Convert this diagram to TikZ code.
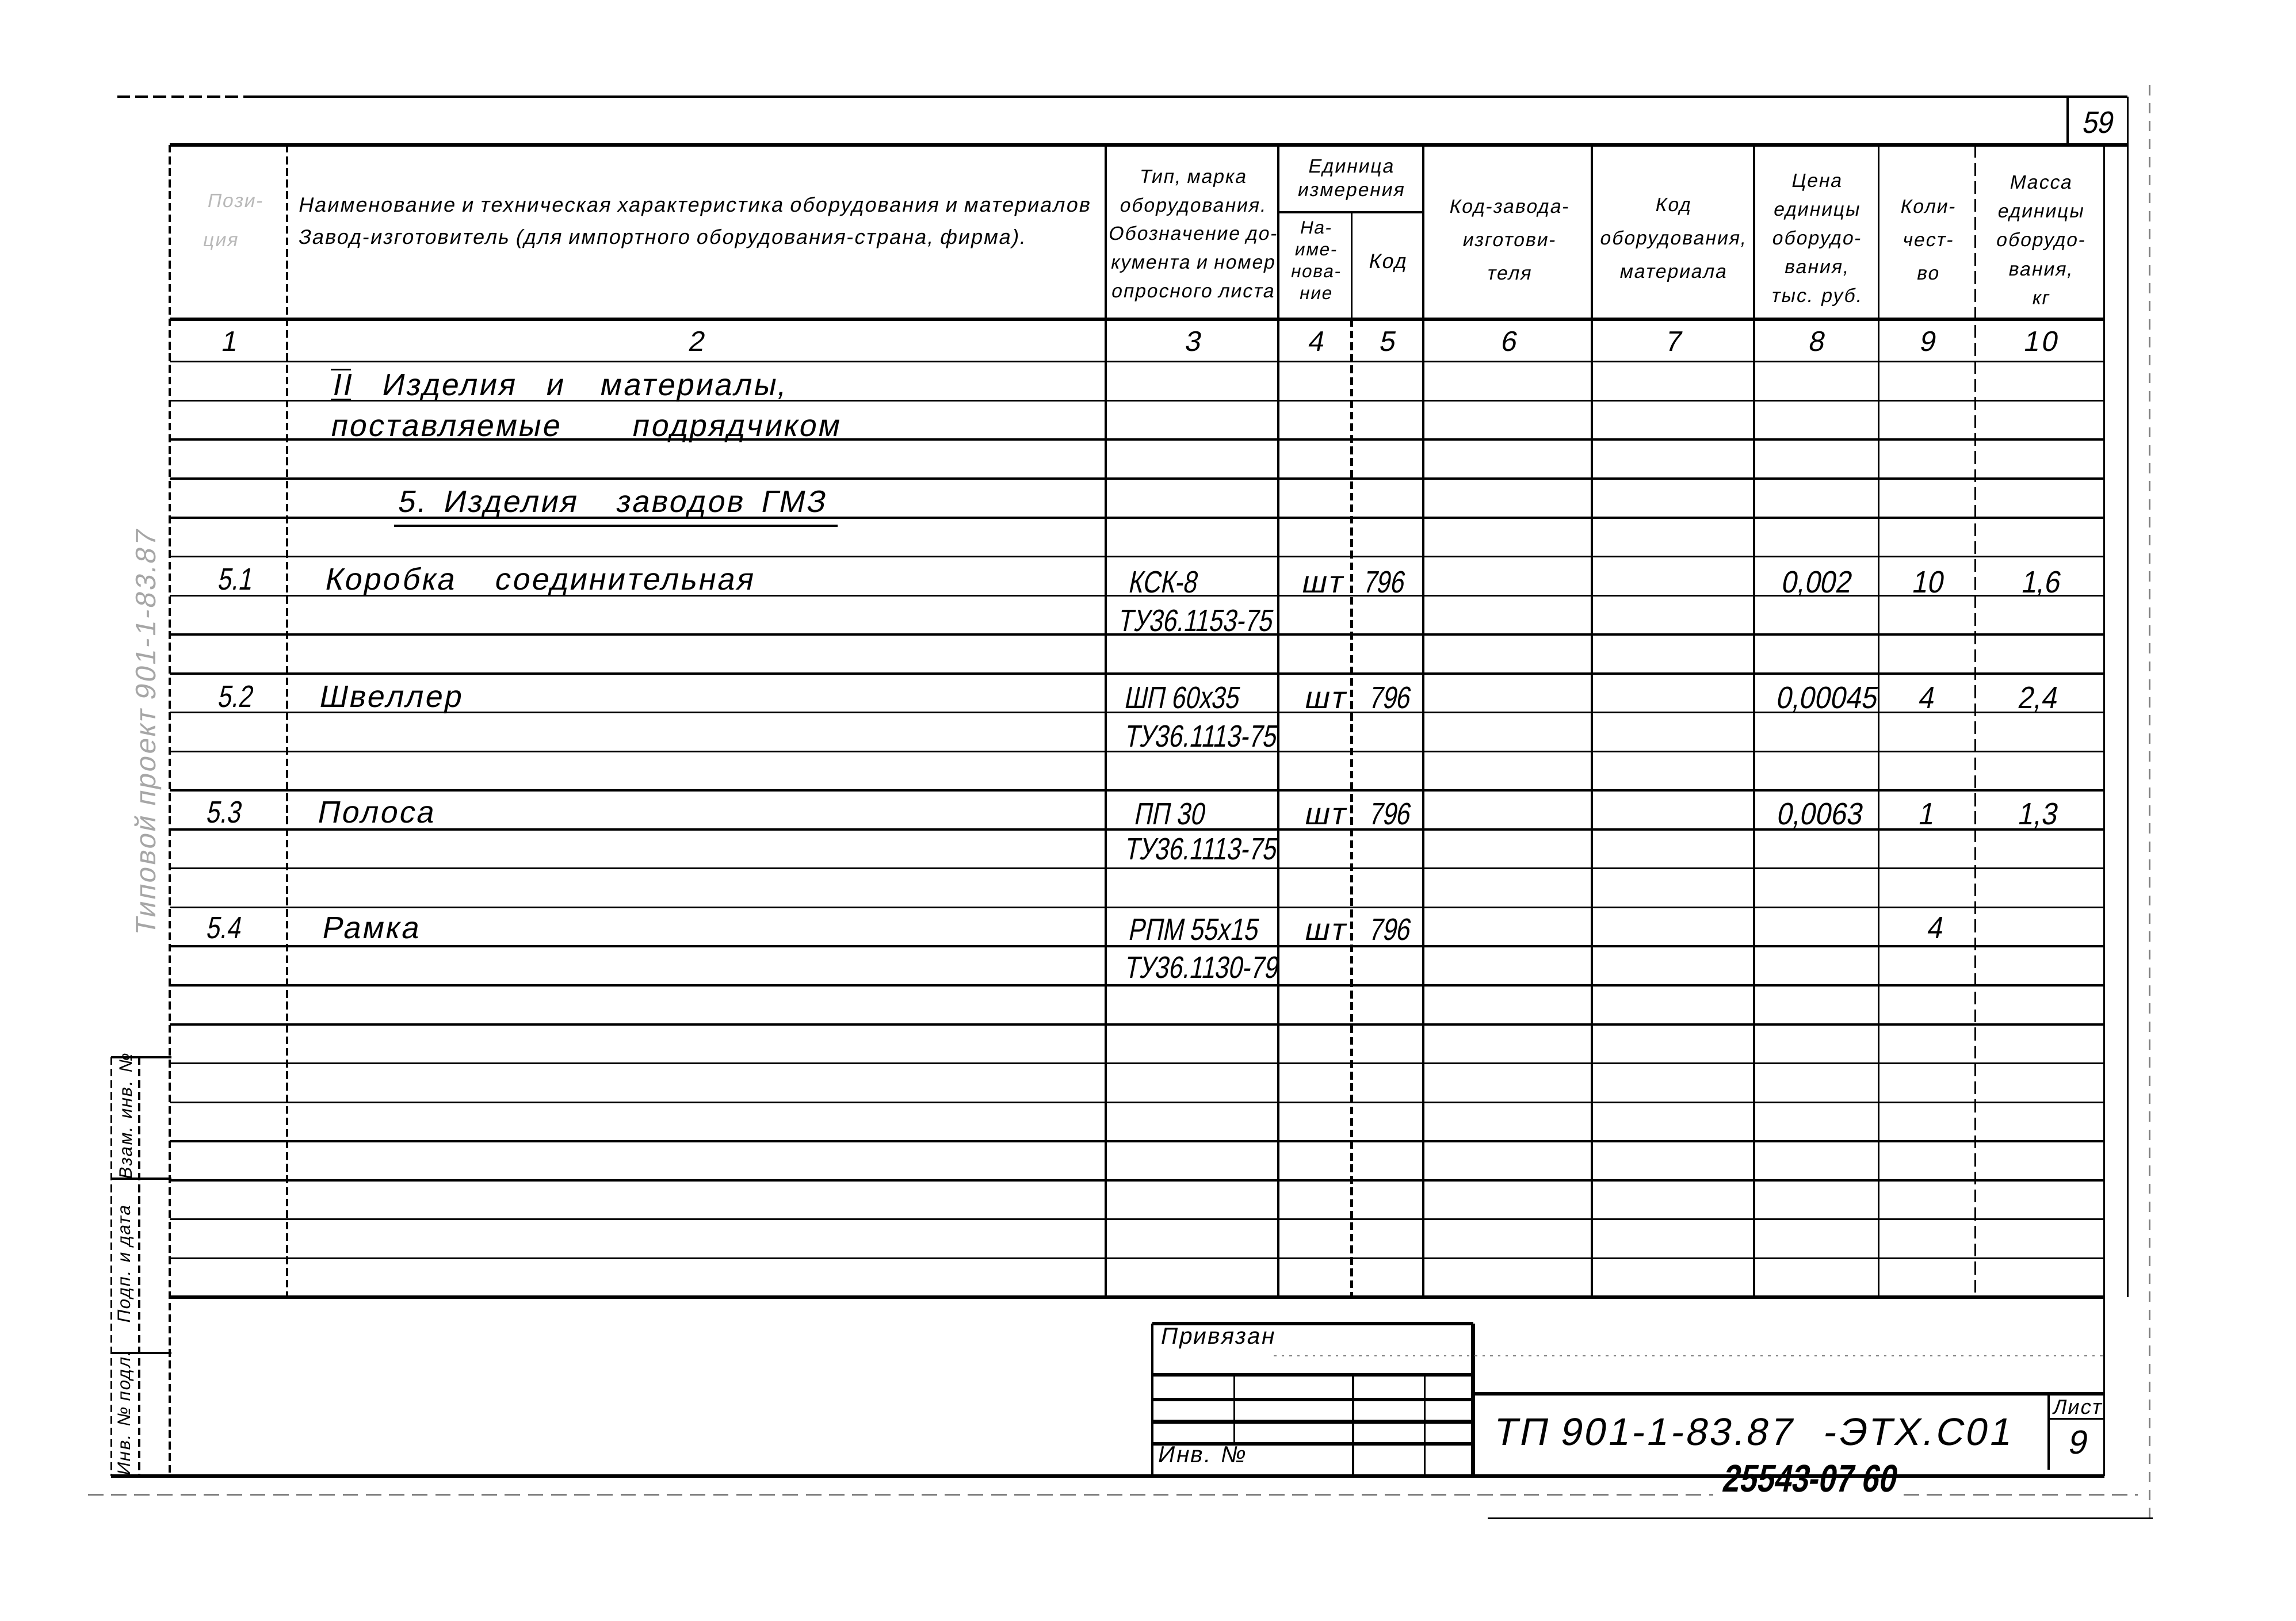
\documentclass[tikz,border=0pt]{standalone}
\usepackage{fontspec}
\setmainfont{Liberation Sans}[FakeSlant=0.2, LetterSpace=6]
\newfontfamily\narrowfont{Liberation Sans}[FakeSlant=0.2, FakeStretch=0.8]
\newfontfamily\valuefont{Liberation Sans}[FakeSlant=0.2, FakeStretch=0.9]
\usetikzlibrary{positioning}
\tikzset{
  ruleline/.style={line width=0.8pt},
  heavyrule/.style={line width=1.4pt},
  dotrule/.style={line width=0.8pt, dash pattern=on 3pt off 1.5pt},
  dashrule/.style={line width=0.7pt, dash pattern=on 5pt off 2pt},
  hdr/.style={inner sep=0pt, align=center, font=\fontsize{7.5}{11}\selectfont},
  word/.style={inner sep=0pt, anchor=base west, font=\fontsize{12}{14}\selectfont},
  code/.style={inner sep=0pt, anchor=base west, font=\narrowfont\fontsize{12}{14}\selectfont},
  numtext/.style={inner sep=0pt, anchor=base, font=\valuefont\fontsize{12}{14}\selectfont},
}

\begin{document}
\begin{tikzpicture}[x=0.2mm, y=-0.2mm]

% Sheet
\fill[white] (0,0) rectangle (1568,1107);
\useasboundingbox (0,0) rectangle (1568,1107);

% Outer frame
\draw[dashrule] (80,66) -- (172,66);
\draw[ruleline] (172,66) -- (1453,66);
\draw[ruleline] (1412,66) -- (1412,99);
\draw[ruleline] (1453,66) -- (1453,886);
\draw[gray, line width=0.6pt, dash pattern=on 4pt off 3pt] (1468,58) -- (1468,1040);
\node[numtext] (sheetno) at (1432,91) {59};

% Head of the table
\draw[heavyrule] (116,99) -- (1453,99);
\draw[heavyrule] (116,218) -- (1437,218);
\draw[ruleline] (873,145) -- (972,145);

% Rows
\draw[ruleline] (116,247) -- (1437,247);
\foreach \k in {1,...,23}
  \draw[ruleline] (116,{247+26.625*\k}) -- (1437,{247+26.625*\k});
\draw[heavyrule] (116,886) -- (1437,886);

% Columns
\draw[dotrule] (116,99) -- (116,1008);
\draw[dotrule] (196,99) -- (196,886);
\foreach \x in {755,873,972,1087,1198,1283}
  \draw[ruleline] (\x,99) -- (\x,886);
\draw[ruleline] (923,145) -- (923,218);
\draw[dotrule, line width=1.1pt] (923,218) -- (923,886);
\draw[dashrule] (1349,99) -- (1349,886);
\draw[ruleline] (1437,99) -- (1437,1008);
\draw[heavyrule] (76,1008) -- (1437,1008);

% Header texts
\node[hdr, text=gray!55] (h1a) at (160,137) {Пози-};
\node[hdr, text=gray!55] (h1b) at (150,166) {ция};
\node[hdr, anchor=west, font=\fontsize{8}{10}\selectfont] (h2a) at (203,141)
  {Наименование и техническая характеристика оборудования и материалов};
\node[hdr, anchor=west, font=\fontsize{8}{10}\selectfont] (h2b) at (203,163)
  {Завод-изготовитель (для импортного оборудования-страна, фирма).};
\node[hdr, font=\fontsize{7.5}{11.1}\selectfont] (h3) at (814,161)
  {Тип, марка\\оборудования.\\Обозначение до-\\кумента и номер\\опросного листа};
\node[hdr, font=\fontsize{7.5}{9.1}\selectfont] (h45) at (922,123) {Единица\\измерения};
\node[hdr, font=\fontsize{7}{8.5}\selectfont] (h4) at (898,178) {На-\\име-\\нова-\\ние};
\node[hdr, font=\fontsize{8}{10}\selectfont] (h5) at (947,180) {Код};
\node[hdr, font=\fontsize{7.5}{13}\selectfont] (h6) at (1030,164) {Код-завода-\\изготови-\\теля};
\node[hdr, font=\fontsize{7.5}{13}\selectfont] (h7) at (1142,164) {Код\\оборудования,\\материала};
\node[hdr, font=\fontsize{7.5}{11.2}\selectfont] (h8) at (1240,164)
  {Цена\\единицы\\оборудо-\\вания,\\тыс. руб.};
\node[hdr, font=\fontsize{7.5}{13}\selectfont] (h9) at (1316,164) {Коли-\\чест-\\во};
\node[hdr, font=\fontsize{7.5}{11.2}\selectfont] (h10) at (1393,164)
  {Масса\\единицы\\оборудо-\\вания,\\кг};

% Column numbers
\foreach \n/\x in {1/156, 2/475, 3/814, 4/898, 5/947, 6/1030, 7/1142, 8/1240, 9/1316, 10/1393}
  \node[numtext, font=\fontsize{11}{13}\selectfont] (colno\n) at (\x,240) {\n};

% Section titles
\node[word] (secnum) at (226,270) {II};
\draw[line width=0.6pt] ([yshift=1.5pt]secnum.north west) -- ([yshift=1.5pt]secnum.north east);
\draw[line width=0.6pt] ([yshift=-1.5pt]secnum.south west) -- ([yshift=-1.5pt]secnum.south east);
\node[word] (secA) at (260,270) {Изделия};
\node[word] (secB) at (372,270) {и};
\node[word] (secC) at (409,270) {материалы,};
\node[word] (suppA) at (225,298) {поставляемые};
\node[word] (suppB) at (431,298) {подрядчиком};
\node[word] (grpA) at (271,350) {5.};
\node[word] (grpB) at (302,350) {Изделия};
\node[word] (grpC) at (420,350) {заводов};
\node[word] (grpD) at (519,350) {ГМЗ};
\draw[ruleline] (269,359) -- (572,359);

% Items
\node[code] (p51) at (148,403) {5.1};
\node[word] (n51a) at (221,403) {Коробка};
\node[word] (n51b) at (337,403) {соединительная};
\node[code] (t51) at (770,405) {КСК-8};
\node[word] (u51) at (888,405) {шт};
\node[code] (k51) at (930,405) {796};
\node[numtext] (c51) at (1240,405) {0,002};
\node[numtext] (q51) at (1316,405) {10};
\node[numtext] (m51) at (1393,405) {1,6};
\node[code] (d51) at (763,431) {ТУ36.1153-75};

\node[code] (p52) at (148,483) {5.2};
\node[word] (n52) at (217,483) {Швеллер};
\node[code] (t52) at (767,484) {ШП 60х35};
\node[word] (u52) at (890,484) {шт};
\node[code] (k52) at (934,484) {796};
\node[numtext] (c52) at (1247,484) {0,00045};
\node[numtext] (q52) at (1315,484) {4};
\node[numtext] (m52) at (1391,484) {2,4};
\node[code] (d52) at (767,510) {ТУ36.1113-75};

\node[code] (p53) at (140,562) {5.3};
\node[word] (n53) at (216,562) {Полоса};
\node[code] (t53) at (774,563) {ПП 30};
\node[word] (u53) at (890,563) {шт};
\node[code] (k53) at (934,563) {796};
\node[numtext] (c53) at (1242,563) {0,0063};
\node[numtext] (q53) at (1315,563) {1};
\node[numtext] (m53) at (1391,563) {1,3};
\node[code] (d53) at (767,587) {ТУ36.1113-75};

\node[code] (p54) at (140,641) {5.4};
\node[word] (n54) at (219,641) {Рамка};
\node[code] (t54) at (770,642) {РПМ 55х15};
\node[word] (u54) at (890,642) {шт};
\node[code] (k54) at (934,642) {796};
\node[numtext] (q54) at (1321,641) {4};
\node[code] (d54) at (767,668) {ТУ36.1130-79};

% Left margin
\node[word, anchor=west, rotate=90, text=gray!70, font=\fontsize{11}{13}\selectfont] (albumtag) at (101,640)
  {Типовой проект 901-1-83.87};
\draw[ruleline] (76,722) -- (117,722);
\draw[ruleline] (76,805) -- (117,805);
\draw[ruleline] (76,924) -- (117,924);
\draw[dotrule] (76,722) -- (76,1008);
\draw[dotrule] (95,722) -- (95,1008);
\node[hdr, rotate=90, font=\fontsize{7}{8}\selectfont] (stampA) at (86,763) {Взам. инв. №};
\node[hdr, rotate=90, font=\fontsize{7}{8}\selectfont] (stampB) at (86,864) {Подп. и дата};
\node[hdr, rotate=90, font=\fontsize{7}{8}\selectfont] (stampC) at (86,966) {Инв. № подл.};

% Title block
\draw[heavyrule] (787,904) -- (1006,904);
\draw[ruleline] (787,904) -- (787,1008);
\draw[heavyrule] (1006,904) -- (1006,1008);
\foreach \y in {939,956,971,986}
  \draw[heavyrule] (787,\y) -- (1006,\y);
\draw[ruleline] (843,939) -- (843,986);
\draw[ruleline] (924,939) -- (924,1008);
\draw[ruleline] (973,939) -- (973,1008);
\draw[gray, line width=0.4pt, dash pattern=on 1pt off 2pt] (870,926) -- (1437,926);
\draw[heavyrule] (1006,952) -- (1437,952);
\draw[ruleline] (1399,952) -- (1399,1004);
\draw[ruleline] (1399,969) -- (1437,969);
\node[word, font=\fontsize{9}{11}\selectfont] (bound) at (792,918) {Привязан};
\node[word, font=\fontsize{9}{11}\selectfont] (invno) at (790,999) {Инв. №};
\node[word, font=\fontsize{15}{17}\selectfont] (docno) at (1019,987) {ТП 901-1-83.87};
\node[word, font=\fontsize{15}{17}\selectfont] (docsuf) at (1244,987) {-ЭТХ.С01};
\node[hdr, font=\fontsize{8}{10}\selectfont] (sheetlbl) at (1418,961) {Лист};
\node[numtext, font=\fontsize{13}{15}\selectfont] (sheetval) at (1418,993) {9};

% Trim lines and archive number
\draw[gray, line width=0.6pt, dash pattern=on 6pt off 3pt] (60,1021) -- (1170,1021);
\draw[gray, line width=0.6pt, dash pattern=on 6pt off 3pt] (1300,1021) -- (1460,1021);
\draw[ruleline] (1016,1037) -- (1470,1037);
\node[numtext, font=\narrowfont\bfseries\fontsize{15}{17}\selectfont] (archno) at (1235,1019) {25543-07 60};

\end{tikzpicture}
\end{document}
